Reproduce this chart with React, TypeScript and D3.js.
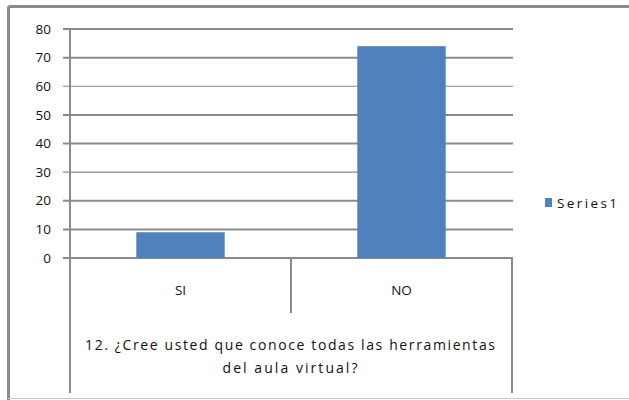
import React from "react";
import * as d3 from "d3";

const categories = ["SI", "NO"];
const values = [9, 74];
const yTicks = [0, 10, 20, 30, 40, 50, 60, 70, 80];
const seriesName = "Series1";
const titleLines = ["12. ¿Cree usted que conoce todas las herramientas", "del aula virtual?"];

const W = 629, H = 400;
const plotL = 70, plotR = 512, plotT = 29, plotB = 258;

export default function App() {
  const y = d3.scaleLinear().domain([0, 80]).range([plotB, plotT]);
  const x = d3.scaleBand<string>().domain(categories).range([plotL, plotR]).paddingInner(0.6).paddingOuter(0.3);
  const band = d3.scaleBand<string>().domain(categories).range([plotL, plotR]);
  const font = "'Open Sans', 'Liberation Sans', Arial, sans-serif";
  const grid = "#8a8a8a";
  const blue = "#4f81bd";
  const ink = "#111";
  return (
    <svg width={W} height={H} style={{ position: "absolute", left: 0, top: 0, background: "#fff" }}>
      <rect x={0} y={0} width={W} height={H} fill="#fff" />
      {/* outer frame */}
      <line x1={8.5} y1={6.5} x2={W} y2={6.5} stroke="#8a8a8a" strokeWidth={3} />
      <line x1={8.5} y1={6.5} x2={8.5} y2={H} stroke="#8a8a8a" strokeWidth={3} />
      <line x1={8} y1={398.5} x2={W} y2={398.5} stroke="#c8c8c8" strokeWidth={1} />
      {/* gridlines */}
      {yTicks.map((t) => (
        <line key={t} x1={plotL - 7} x2={plotR + 1} y1={y(t)} y2={y(t)} stroke={grid} strokeWidth={t === 30 || t === 60 ? 1.2 : 2} />
      ))}
      {/* y axis line */}
      <line x1={plotL} x2={plotL} y1={plotT} y2={393} stroke={grid} strokeWidth={2} />
      {/* right box line */}
      <line x1={plotR} x2={plotR} y1={plotB} y2={393} stroke={grid} strokeWidth={2} />
      {/* category divider */}
      <line x1={band("NO")!} x2={band("NO")!} y1={plotB} y2={313} stroke={grid} strokeWidth={2} />
      {/* y tick labels */}
      {yTicks.map((t) => (
        <text key={t} x={51} y={y(t)} dy="0.35em" textAnchor="end" fontFamily={font} fontSize={13.5} fill={ink}>{t}</text>
      ))}
      {/* bars */}
      {categories.map((c, i) => (
        <rect key={c} x={x(c)!} width={x.bandwidth()} y={y(values[i])} height={plotB - y(values[i])} fill={blue} />
      ))}
      {/* category labels */}
      {categories.map((c) => (
        <text key={c} x={band(c)! + band.bandwidth() / 2} y={290} dy="0.35em" textAnchor="middle" fontFamily={font} fontSize={13.5} fill={ink}>{c}</text>
      ))}
      {/* group title */}
      <text x={290} y={345} dy="0.35em" textAnchor="middle" fontFamily={font} fontSize={14} fill={ink} textLength={410} lengthAdjust="spacing">{titleLines[0]}</text>
      <text x={290} y={368} dy="0.35em" textAnchor="middle" fontFamily={font} fontSize={14} fill={ink} textLength={135} lengthAdjust="spacing">{titleLines[1]}</text>
      {/* legend */}
      <rect x={545} y={198} width={7} height={9} fill={blue} />
      <text x={557} y={203} dy="0.35em" fontFamily={font} fontSize={13.5} fill={ink} textLength={60} lengthAdjust="spacing">{seriesName}</text>
    </svg>
  );
}
